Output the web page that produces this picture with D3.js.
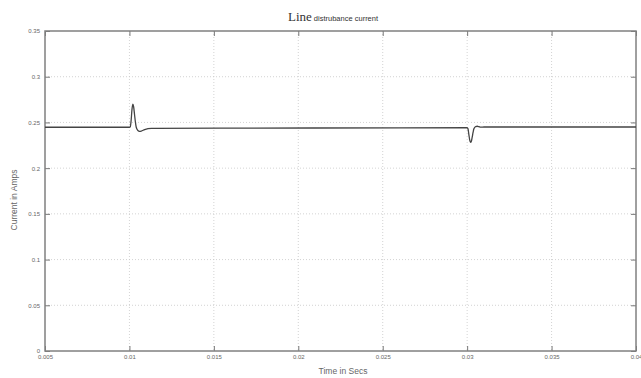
<!DOCTYPE html>
<html>
<head>
<meta charset="utf-8">
<script src="https://cdn.jsdelivr.net/npm/d3@7"></script>
<style>
  body { margin: 0; background: #fff; }
  svg { display: block; }
</style>
</head>
<body>
<svg id="chart" width="641" height="378"></svg>
<script>
// time (s) and line current (A)
const timeSecs = [0.005, 0.0100, 0.01005, 0.0101, 0.01015, 0.0102, 0.01025, 0.0103, 0.01035,
  0.0104, 0.0105, 0.0106, 0.0107, 0.0109, 0.0111, 0.0113, 0.0115,
  0.0300, 0.03005, 0.0301, 0.03015, 0.0302, 0.03025, 0.0303, 0.03035, 0.0304,
  0.0305, 0.0306, 0.0307, 0.0308, 0.0310, 0.040];
const currentAmps = [0.2447, 0.2447, 0.2452, 0.252, 0.264, 0.270, 0.267, 0.259, 0.251,
  0.245, 0.2412, 0.2403, 0.2406, 0.2422, 0.2432, 0.2436, 0.2436,
  0.2442, 0.243, 0.237, 0.231, 0.2283, 0.2295, 0.234, 0.239, 0.243,
  0.2455, 0.2458, 0.2453, 0.2448, 0.245, 0.245];
const xTicks = [0.005, 0.01, 0.015, 0.02, 0.025, 0.03, 0.035, 0.04];
const xTickLabels = ["0.005", "0.01", "0.015", "0.02", "0.025", "0.03", "0.035", "0.04"];
const yTicks = [0, 0.05, 0.1, 0.15, 0.2, 0.25, 0.3, 0.35];
const yTickLabels = ["0", "0.05", "0.1", "0.15", "0.2", "0.25", "0.3", "0.35"];

const svg = d3.select("#chart");
const pl = 45, pr = 636, pt = 31, pb = 351;

const x = d3.scaleLinear().domain([0.005, 0.04]).range([pl, pr]);
const y = d3.scaleLinear().domain([0, 0.35]).range([pb, pt]);

// grid
svg.append("g").selectAll("line").data(xTicks.slice(1, -1)).join("line")
  .attr("x1", d => x(d)).attr("x2", d => x(d))
  .attr("y1", pt).attr("y2", pb)
  .attr("stroke", "#c8c8c8").attr("stroke-width", 0.8).attr("stroke-dasharray", "1,2");
svg.append("g").selectAll("line").data(yTicks.slice(1, -1)).join("line")
  .attr("x1", pl).attr("x2", pr)
  .attr("y1", d => y(d)).attr("y2", d => y(d))
  .attr("stroke", "#c8c8c8").attr("stroke-width", 0.8).attr("stroke-dasharray", "1,2");

// axes, ticks pointing inwards like matlab
const fmtX = (d, i) => xTickLabels[i];
const fmtY = (d, i) => yTickLabels[i];
const axisStyle = g => {
  g.select(".domain").remove();
  g.selectAll(".tick line").attr("stroke", "#777");
  g.selectAll(".tick text").attr("fill", "#666")
    .style("font-family", "Liberation Sans, Arial, sans-serif").style("font-size", "6px");
};
svg.append("g").attr("transform", `translate(0,${pb})`)
  .call(d3.axisBottom(x).tickValues(xTicks).tickFormat(fmtX).tickSize(-5).tickPadding(4))
  .call(axisStyle);
svg.append("g").attr("transform", `translate(0,${pt})`)
  .call(d3.axisTop(x).tickValues(xTicks).tickFormat("").tickSize(-5))
  .call(axisStyle);
svg.append("g").attr("transform", `translate(${pl},0)`)
  .call(d3.axisLeft(y).tickValues(yTicks).tickFormat(fmtY).tickSize(-5).tickPadding(5))
  .call(axisStyle);
svg.append("g").attr("transform", `translate(${pr},0)`)
  .call(d3.axisRight(y).tickValues(yTicks).tickFormat("").tickSize(-5))
  .call(axisStyle);

// box
svg.append("rect").attr("x", pl).attr("y", pt)
  .attr("width", pr - pl).attr("height", pb - pt)
  .attr("fill", "none").attr("stroke", "#808080").attr("stroke-width", 1.5);

// signal
const line = d3.line()
  .x((d, i) => x(timeSecs[i]))
  .y(d => y(d))
  .curve(d3.curveMonotoneX);
svg.append("path").datum(currentAmps)
  .attr("d", line)
  .attr("fill", "none").attr("stroke", "#444").attr("stroke-width", 1.3);

// title
const title = svg.append("text").attr("x", 333).attr("y", 21).attr("text-anchor", "middle").attr("fill", "#333");
title.append("tspan").text("Line")
  .style("font-family", "Liberation Serif, Times New Roman, serif").style("font-size", "13px");
title.append("tspan").text(" distrubance current")
  .style("font-family", "Liberation Sans, Arial, sans-serif").style("font-size", "7.5px");

// axis labels
svg.append("text").attr("x", 343).attr("y", 374).attr("text-anchor", "middle")
  .attr("fill", "#666").style("font-family", "Liberation Sans, Arial, sans-serif").style("font-size", "8.5px")
  .text("Time in Secs");
svg.append("text").attr("transform", "translate(17,200) rotate(-90)").attr("text-anchor", "middle")
  .attr("fill", "#666").style("font-family", "Liberation Sans, Arial, sans-serif").style("font-size", "8.5px")
  .text("Current in Amps");
</script>
</body>
</html>
